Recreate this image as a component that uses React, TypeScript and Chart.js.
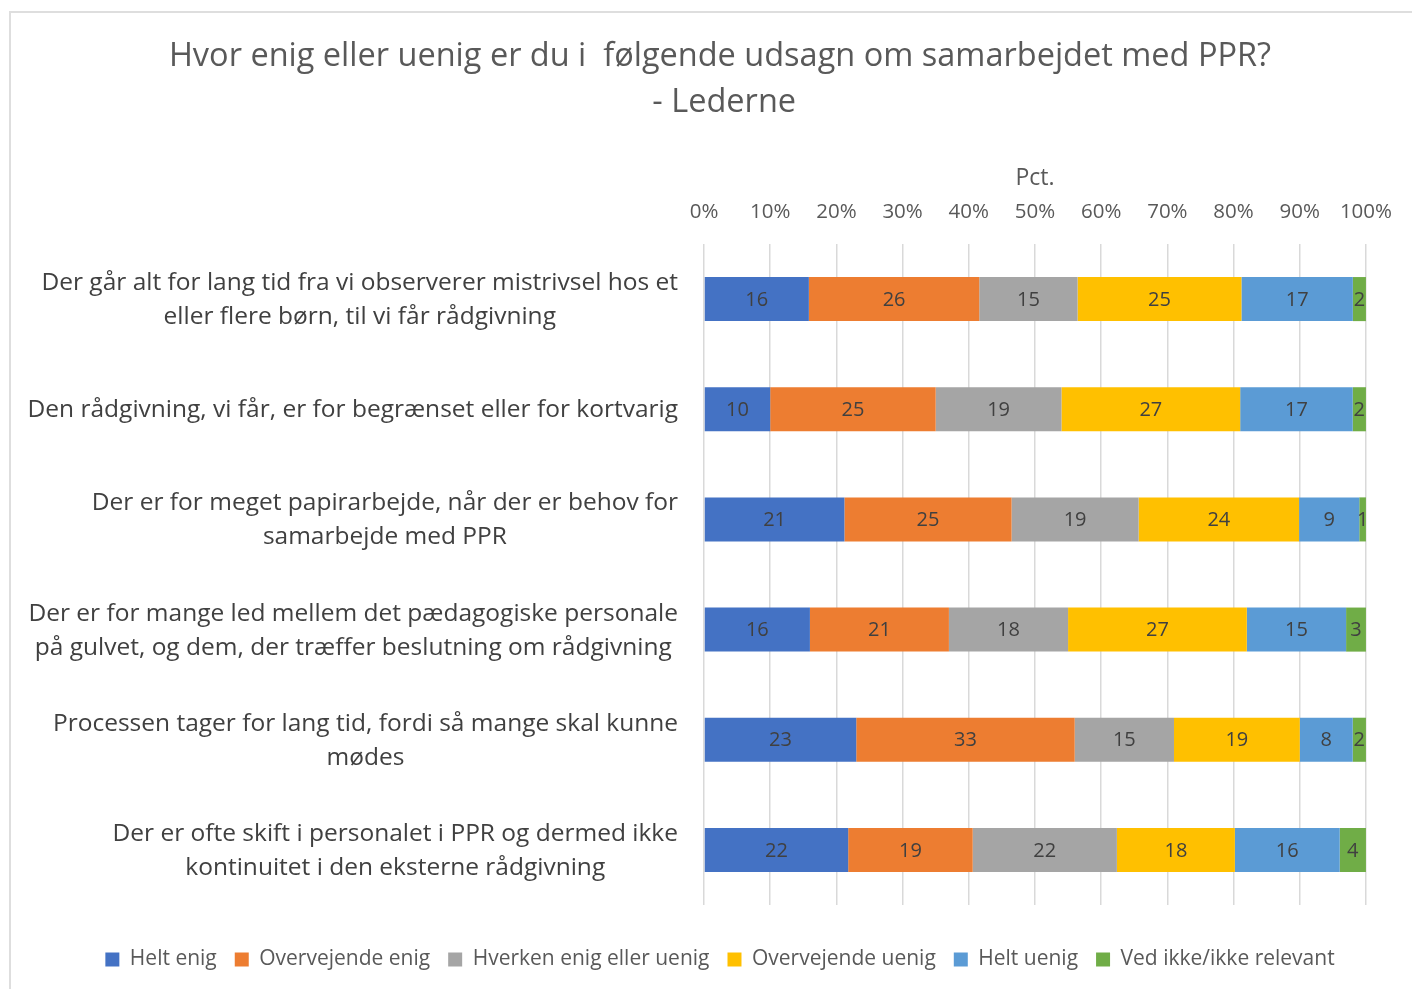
import React, { useEffect, useRef } from 'react';
import { Chart, registerables } from 'chart.js';

Chart.register(...registerables);

const titleLines = ['Hvor enig eller uenig er du i  følgende udsagn om samarbejdet med PPR?', ' - Lederne'];
const axisTitle = 'Pct.';

const categories: string[][] = [
  ['Der går alt for lang tid fra vi observerer mistrivsel hos et', 'eller flere børn, til vi får rådgivning'],
  ['Den rådgivning, vi får, er for begrænset eller for kortvarig'],
  ['Der er for meget papirarbejde, når der er behov for', 'samarbejde med PPR'],
  ['Der er for mange led mellem det pædagogiske personale', 'på gulvet, og dem, der træffer beslutning om rådgivning'],
  ['Processen tager for lang tid, fordi så mange skal kunne', 'mødes'],
  ['Der er ofte skift i personalet i PPR og dermed ikke', 'kontinuitet i den eksterne rådgivning'],
];

const seriesNames = [
  'Helt enig',
  'Overvejende enig',
  'Hverken enig eller uenig',
  'Overvejende uenig',
  'Helt uenig',
  'Ved ikke/ikke relevant',
];

const heltEnig = [16, 10, 21, 16, 23, 22];
const overvejendeEnig = [26, 25, 25, 21, 33, 19];
const hverken = [15, 19, 19, 18, 15, 22];
const overvejendeUenig = [25, 27, 24, 27, 19, 18];
const heltUenig = [17, 17, 9, 15, 8, 16];
const vedIkke = [2, 2, 1, 3, 2, 4];

const xTickValues = [0, 10, 20, 30, 40, 50, 60, 70, 80, 90, 100];

const seriesColors = ['#4472C4', '#ED7D31', '#A5A5A5', '#FFC000', '#5B9BD5', '#70AD47'];

const FONT = '"Open Sans", Lato, sans-serif';

const barLabelPlugin = {
  id: 'barLabels',
  afterDatasetsDraw(chart: any) {
    const ctx = chart.ctx;
    ctx.save();
    ctx.font = `20px ${FONT}`;
    ctx.fillStyle = '#404040';
    ctx.textAlign = 'center';
    ctx.textBaseline = 'middle';
    chart.data.datasets.forEach((ds: any, di: number) => {
      const meta = chart.getDatasetMeta(di);
      meta.data.forEach((el: any, i: number) => {
        const p = el.getProps(['x', 'y', 'base'], true);
        ctx.fillText(String(ds.rawValues[i]), (p.x + p.base) / 2, p.y + 1);
      });
    });
    ctx.restore();
  },
};

const yLabelPlugin = {
  id: 'yLabels',
  afterDraw(chart: any) {
    const ctx = chart.ctx;
    const yScale = chart.scales.y;
    ctx.save();
    ctx.font = `24.5px ${FONT}`;
    ctx.fillStyle = '#404040';
    ctx.textAlign = 'center';
    ctx.textBaseline = 'middle';
    categories.forEach((lines, i) => {
      const yc = yScale.getPixelForValue(i);
      const w = Math.max(...lines.map((l) => ctx.measureText(l).width));
      const cx = chart.chartArea.left - 26 - w / 2;
      lines.forEach((l, k) => {
        ctx.fillText(l, cx, yc + 1 + (k - (lines.length - 1) / 2) * 34);
      });
    });
    ctx.restore();
  },
};

export default function App() {
  const ref = useRef<HTMLCanvasElement | null>(null);

  useEffect(() => {
    if (!ref.current) return;
    const raw = [heltEnig, overvejendeEnig, hverken, overvejendeUenig, heltUenig, vedIkke];
    const totals = categories.map((_, i) => raw.reduce((s, arr) => s + arr[i], 0));
    const chart = new Chart(ref.current, {
      type: 'bar',
      data: {
        labels: categories.map((l) => l.join(' ')),
        datasets: raw.map((vals, si) => ({
          label: seriesNames[si],
          data: vals.map((v, i) => (v / totals[i]) * 100),
          rawValues: vals,
          backgroundColor: seriesColors[si],
          borderWidth: 0,
          barPercentage: 0.4,
          categoryPercentage: 1,
        })) as any,
      },
      options: {
        indexAxis: 'y',
        responsive: false,
        animation: false,
        layout: { padding: { left: 74, right: 46, top: 0, bottom: 9 } },
        scales: {
          x: {
            position: 'top',
            stacked: true,
            min: 0,
            max: 100,
            afterBuildTicks: (scale: any) => {
              scale.ticks = xTickValues.map((v) => ({ value: v }));
            },
            grid: { color: '#d9d9d9', lineWidth: 1.5, drawTicks: false },
            border: { display: false },
            ticks: {
              padding: 20,
              color: '#595959',
              font: { family: FONT, size: 20.5, lineHeight: '24px' as any },
              callback: (v: any) => `${v}%`,
            },
            title: {
              display: true,
              text: axisTitle,
              color: '#595959',
              font: { family: FONT, size: 23, lineHeight: '4px' as any },
              padding: { top: 3, bottom: 0 },
            },
          },
          y: {
            stacked: true,
            grid: { display: false },
            border: { display: false },
            ticks: { display: false },
            afterFit: (scale: any) => {
              scale.width = 704 - 74;
            },
          },
        },
        plugins: {
          title: {
            display: true,
            text: titleLines,
            color: '#595959',
            font: { family: FONT, size: 32.5, weight: 'normal', lineHeight: '46px' as any },
            padding: { top: 34, bottom: 47 },
          },
          legend: {
            position: 'bottom',
            title: { display: true, text: '', padding: { top: 26, bottom: 0 }, font: { size: 1, lineHeight: '0px' as any } },
            labels: {
              boxWidth: 14,
              boxHeight: 14,
              padding: 18,
              color: '#595959',
              font: { family: FONT, size: 21 },
            },
          },
          tooltip: { enabled: false },
        },
      } as any,
      plugins: [barLabelPlugin, yLabelPlugin],
    });
    return () => chart.destroy();
  }, []);

  return (
    <div style={{ position: 'fixed', left: 0, top: 0, width: 1412, height: 989, overflow: 'hidden', background: '#fff' }}>
      <div
        style={{
          position: 'absolute',
          left: 9,
          top: 11,
          width: 1412,
          height: 989,
          borderLeft: '2px solid #dedede',
          borderTop: '2px solid #dedede',
        }}
      />
      <canvas ref={ref} width={1412} height={989} style={{ position: 'absolute', left: 0, top: 0 }} />
    </div>
  );
}
